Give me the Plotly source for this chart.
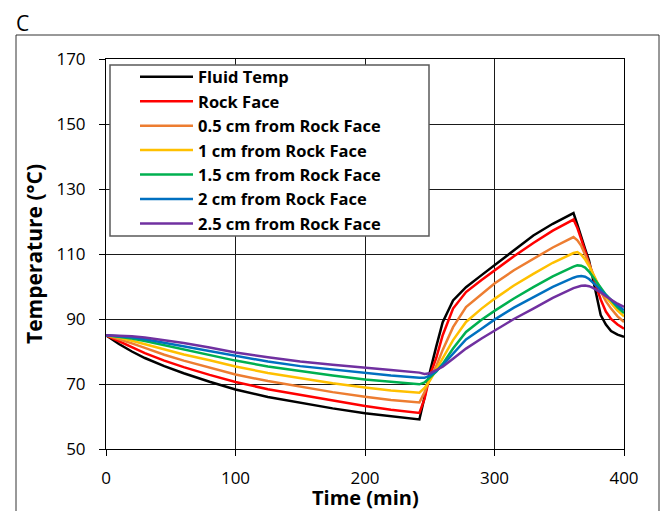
import plotly.graph_objects as go

time_min = [0, 10, 20, 30, 45, 60, 80, 100, 125, 150, 175, 200, 220, 242, 246, 250, 255, 260, 268, 278,
            290, 300, 315, 330, 345, 361, 364, 367, 370, 373, 376, 379, 382, 386, 390, 395, 400]

fluid_temp = [85, 82.3, 80.0, 78.0, 75.5, 73.3, 70.7, 68.3, 66.0, 64.2, 62.5, 61.0, 60.0, 59.1, 66.0, 73.5, 81.5, 89.0, 95.7, 99.8,
              103.5, 106.5, 111.2, 115.7, 119.3, 122.6, 119.0, 115.0, 111.5, 108.0, 102.5, 96.5, 91.2, 88.3, 86.3, 85.2, 84.5]
rock_face = [85, 83.1, 81.2, 79.5, 77.2, 75.2, 72.8, 70.6, 68.4, 66.6, 64.8, 63.2, 62.1, 61.1, 65.5, 72.5, 78.0, 85.0, 93.2, 98.3,
             102.0, 105.0, 109.3, 113.4, 117.2, 120.6, 118.0, 114.5, 111.0, 107.5, 103.5, 99.5, 96.0, 92.3, 90.0, 88.3, 87.0]
cm_0_5 = [85, 83.8, 82.5, 81.1, 79.0, 77.2, 75.0, 72.9, 70.9, 69.1, 67.5, 66.1, 65.1, 64.3, 67.5, 71.5, 75.5, 80.5, 87.5, 93.7,
          97.6, 100.9, 105.0, 108.5, 112.0, 115.2, 114.2, 112.5, 110.0, 107.0, 104.0, 101.0, 98.5, 95.5, 93.2, 90.8, 89.1]
cm_1_0 = [85, 84.3, 83.3, 82.2, 80.6, 79.1, 77.3, 75.4, 73.4, 71.7, 70.2, 68.9, 68.0, 67.3, 68.8, 71.0, 74.5, 78.0, 83.5, 89.1,
          93.2, 96.2, 100.3, 103.9, 107.3, 110.3, 110.6, 109.8, 108.3, 106.3, 104.0, 101.5, 99.2, 96.8, 94.8, 92.6, 90.8]
cm_1_5 = [85, 84.6, 84.0, 83.2, 81.9, 80.6, 78.9, 77.2, 75.4, 73.9, 72.6, 71.4, 70.6, 69.9, 70.5, 72.0, 73.8, 76.2, 80.9, 86.0,
          89.8, 92.5, 96.3, 99.8, 103.1, 106.1, 106.5, 106.4, 105.8, 104.6, 103.0, 101.2, 99.5, 97.5, 95.8, 93.6, 91.8]
cm_2_0 = [85, 84.8, 84.4, 83.8, 82.7, 81.6, 80.1, 78.5, 76.9, 75.5, 74.4, 73.4, 72.6, 71.9, 71.9, 72.6, 74.0, 75.8, 79.4, 83.7,
          87.0, 89.8, 93.5, 96.8, 99.9, 102.7, 103.1, 103.2, 103.0, 102.3, 101.3, 100.1, 98.9, 97.3, 95.9, 94.2, 92.7]
cm_2_5 = [85, 84.9, 84.7, 84.3, 83.5, 82.6, 81.2, 79.7, 78.2, 76.9, 75.9, 75.1, 74.3, 73.5, 73.1, 73.3, 74.2, 75.3, 77.8, 80.9,
          84.0, 86.5, 90.0, 93.2, 96.5, 99.5, 99.9, 100.2, 100.3, 100.1, 99.6, 99.0, 98.2, 97.0, 95.9, 94.7, 93.7]

series_names = ["Fluid Temp", "Rock Face", "0.5 cm from Rock Face", "1 cm from Rock Face",
                "1.5 cm from Rock Face", "2 cm from Rock Face", "2.5 cm from Rock Face"]
series_values = [fluid_temp, rock_face, cm_0_5, cm_1_0, cm_1_5, cm_2_0, cm_2_5]
series_colors = ["#000000", "#FF0000", "#ED7D31", "#FFC000", "#00B050", "#0070C0", "#7030A0"]

x_ticks = [0, 100, 200, 300, 400]
y_ticks = [50, 70, 90, 110, 130, 150, 170]

FONT = "Open Sans"

fig = go.Figure()
for name, vals, col in zip(series_names, series_values, series_colors):
    fig.add_trace(go.Scatter(x=time_min, y=vals, mode="lines", name=name,
                             line=dict(color=col, width=2.5)))

# page-pixel geometry of the plot area (page has an 8px body margin)
OFF = 8
L, R, T, B = 106, 624, 59, 449
W, H = 669, 511


def px_x(p):
    return (p - L) / (R - L)


def px_y(p):
    return (B - p) / (B - T)


axis_common = dict(
    showgrid=True, gridcolor="#1a1a1a", gridwidth=1,
    showline=True, linecolor="#000000", linewidth=1, mirror=True,
    ticks="outside", ticklen=6, tickcolor="#000000", tickwidth=1,
    tickfont=dict(family=FONT, size=17, color="#000000"),
    zeroline=False, automargin=False,
)

fig.update_layout(
    width=W, height=H,
    margin=dict(l=L - OFF, r=W - (R - OFF), t=T - OFF, b=H - (B - OFF), pad=0),
    paper_bgcolor="white", plot_bgcolor="white",
    font=dict(family=FONT, color="#000000"),
    xaxis=dict(range=[0, 400], tickvals=x_ticks, ticklabelstandoff=8, **axis_common),
    yaxis=dict(range=[50, 170], tickvals=y_ticks, ticklabelstandoff=10,
               title=dict(text="Temperature (°C)", standoff=8,
                          font=dict(family=FONT, size=21, weight="bold", color="#000000")),
               **axis_common),
    legend=dict(x=px_x(135), y=px_y(59.5), xanchor="left", yanchor="top",
                bgcolor="rgba(0,0,0,0)", borderwidth=0,
                font=dict(family=FONT, size=16.5, weight="bold", color="#000000"),
                itemwidth=53, tracegroupgap=0),
    showlegend=True,
)

# x-axis title placed just under the tick labels
fig.add_annotation(text="Time (min)", xref="paper", yref="paper", x=0.5, y=px_y(497.5),
                   xanchor="center", yanchor="middle", showarrow=False,
                   font=dict(family=FONT, size=20, weight="bold", color="#000000"))

# legend frame (white box with grey border)
fig.add_shape(type="rect", xref="paper", yref="paper",
              x0=px_x(110), x1=px_x(429), y0=px_y(236), y1=px_y(65),
              line=dict(color="#595959", width=1.5), fillcolor="white", layer="above")

# outer chart border
fig.add_shape(type="rect", xref="paper", yref="paper",
              x0=px_x(16), x1=px_x(659), y0=px_y(530), y1=px_y(35),
              line=dict(color="#333333", width=1), fillcolor="rgba(0,0,0,0)", layer="below")

fig.add_annotation(text="C", xref="paper", yref="paper", x=px_x(14), y=px_y(22.5),
                   xanchor="left", yanchor="middle", showarrow=False,
                   font=dict(family=FONT, size=21, color="#000000"))

fig.write_html("out.html")
